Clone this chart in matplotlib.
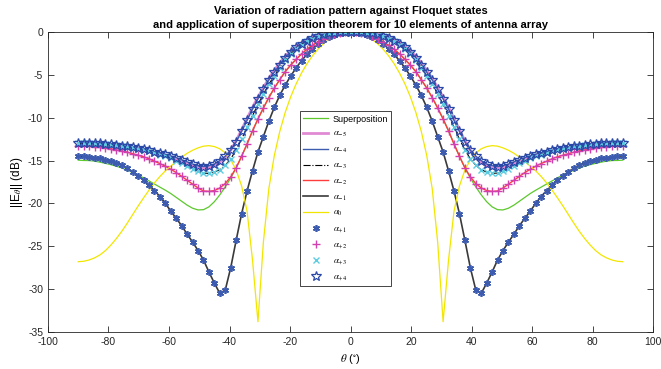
import numpy as np
import matplotlib
matplotlib.use("Agg")
import matplotlib.pyplot as plt

plt.rcParams['font.family'] = ['Liberation Sans', 'DejaVu Sans']
plt.rcParams['mathtext.fontset'] = 'stix'
plt.rcParams['axes.unicode_minus'] = False

# Right half of each (symmetric) pattern, theta = 0, 1.8, ..., 90 deg
theta_half = np.linspace(0, 90, 51)

superpos_half = [0, -0.03, -0.12, -0.29, -0.51, -0.79, -1.14, -1.55, -2.02, -2.56,
                 -3.2, -3.87, -4.63, -5.57, -6.55, -7.65, -8.86, -10.15, -11.54, -13.06,
                 -14.5, -15.85, -17.04, -18.07, -19.0, -19.8, -20.4, -20.73, -20.76, -20.56,
                 -20.2, -19.75, -19.3, -18.85, -18.46, -18.1, -17.74, -17.38, -17.02, -16.67,
                 -16.4, -16.13, -15.86, -15.66, -15.48, -15.33, -15.19, -15.07, -15.0, -14.99,
                 -14.95]
a_m5_half = [0, -0.01, -0.03, -0.08, -0.15, -0.25, -0.4, -0.62, -0.9, -1.25,
             -1.7, -2.2, -2.85, -3.6, -4.5, -5.4, -6.5, -7.6, -8.8, -10.1,
             -11.4, -12.7, -13.8, -14.6, -15.2, -15.6, -15.85, -15.9, -15.8, -15.6,
             -15.35, -15.1, -14.85, -14.6, -14.4, -14.2, -14.05, -13.9, -13.78, -13.66,
             -13.56, -13.47, -13.39, -13.32, -13.26, -13.21, -13.17, -13.14, -13.12, -13.1,
             -13.1]
a_m4_half = [0, -0.01, -0.04, -0.09, -0.17, -0.28, -0.45, -0.7, -1.0, -1.35,
             -1.8, -2.3, -3.0, -3.8, -4.7, -5.6, -6.7, -7.8, -9.0, -10.3,
             -11.6, -12.8, -13.8, -14.5, -15.0, -15.4, -15.6, -15.7, -15.6, -15.4,
             -15.15, -14.9, -14.65, -14.45, -14.25, -14.1, -13.95, -13.8, -13.65, -13.55,
             -13.45, -13.35, -13.25, -13.15, -13.08, -13.02, -12.97, -12.93, -12.9, -12.9,
             -12.9]
a_m3_half = [0, -0.01, -0.04, -0.1, -0.19, -0.31, -0.5, -0.77, -1.1, -1.5,
             -1.98, -2.55, -3.3, -4.15, -5.1, -6.1, -7.25, -8.45, -9.75, -11.1,
             -12.5, -13.75, -14.8, -15.55, -16.05, -16.35, -16.5, -16.45, -16.25, -15.95,
             -15.6, -15.3, -15.0, -14.75, -14.5, -14.3, -14.1, -13.93, -13.78, -13.64,
             -13.52, -13.42, -13.32, -13.24, -13.17, -13.1, -13.05, -13.02, -13.0, -13.0,
             -13.0]
a_m2_half = [0, -0.03, -0.12, -0.29, -0.51, -0.79, -1.14, -1.55, -2.02, -2.56,
             -3.2, -3.87, -4.63, -5.57, -6.55, -7.65, -8.86, -10.15, -11.54, -13.06,
             -14.5, -15.85, -16.9, -17.68, -18.2, -18.5, -18.6, -18.55, -18.2, -17.75,
             -17.3, -16.85, -16.4, -16.02, -15.66, -15.35, -15.08, -14.8, -14.56, -14.38,
             -14.2, -14.02, -13.88, -13.75, -13.64, -13.55, -13.46, -13.39, -13.34, -13.3,
             -13.3]
a_m1_half = [0, -0.04, -0.15, -0.35, -0.62, -0.98, -1.42, -1.95, -2.6, -3.35,
             -4.2, -5.15, -6.2, -7.4, -8.8, -10.4, -12.2, -14.0, -16.2, -18.55,
             -21.2, -24.3, -27.5, -30.1, -30.5, -29.3, -28.0, -26.6, -25.5, -24.5,
             -23.6, -22.6, -21.75, -20.9, -20.0, -19.2, -18.5, -17.9, -17.3, -16.8,
             -16.3, -15.9, -15.5, -15.25, -15.05, -14.9, -14.75, -14.65, -14.55, -14.5,
             -14.45]
a_0_half = [0, -0.05, -0.22, -0.49, -0.88, -1.39, -2.02, -2.79, -3.7, -4.79,
            -6.07, -7.58, -9.39, -11.62, -14.43, -18.27, -24.5, -33.8, -26.6, -20.9,
            -17.96, -16.11, -14.91, -14.11, -13.63, -13.37, -13.26, -13.32, -13.52, -13.8,
            -14.15, -14.6, -15.1, -15.65, -16.2, -16.85, -17.6, -18.45, -19.35, -20.3,
            -21.3, -22.3, -23.25, -24.1, -24.85, -25.5, -26.0, -26.35, -26.6, -26.75,
            -26.8]


def full(theta, vals):
    theta = np.asarray(theta, dtype=float)
    vals = np.asarray(vals, dtype=float)
    return (np.concatenate([-theta[:0:-1], theta]),
            np.concatenate([vals[:0:-1], vals]))


th, sp = full(theta_half, superpos_half)
_, m5 = full(theta_half, a_m5_half)
_, m4 = full(theta_half, a_m4_half)
_, m3 = full(theta_half, a_m3_half)
_, m2 = full(theta_half, a_m2_half)
_, m1 = full(theta_half, a_m1_half)
_, a0 = full(theta_half, a_0_half)

fig = plt.figure(figsize=(6.61, 3.69), dpi=100)
ax = fig.add_axes([0.0726, 0.1003, 0.9154, 0.813])

ax.plot(th, sp, color='#5cc82c', lw=0.9, label='Superposition')
ax.plot(th, m5, color='#e08ad4', lw=2.0, label=r'$\alpha_{-5}$')
ax.plot(th, m4, color='#3d5cb0', lw=1.0, label=r'$\alpha_{-4}$')
ax.plot(th, m3, color='black', lw=0.8, ls='-.', label=r'$\alpha_{-3}$')
ax.plot(th, m2, color='#ff3c3c', lw=1.0, label=r'$\alpha_{-2}$')
ax.plot(th, m1, color='#3a3a3a', lw=1.2, label=r'$\alpha_{-1}$')
ax.plot(th, a0, color='#f2e600', lw=0.9, label=r'$\alpha_{0}$')
ax.plot(th, m1, ls='none', marker=(6, 2, 0), ms=5, mew=1.2,
        color='#3d5cb0', label=r'$\alpha_{+1}$')
ax.plot(th, m2, ls='none', marker='+', ms=6, mew=1.0,
        color='#d040b0', label=r'$\alpha_{+2}$')
ax.plot(th, m3, ls='none', marker='x', ms=4, mew=1.0,
        color='#5ccde0', label=r'$\alpha_{+3}$')
ax.plot(th, m4, ls='none', marker='*', ms=7, mew=0.9, mfc='none',
        color='#2a48a8', label=r'$\alpha_{+4}$')

ax.set_xlim(-100, 100)
ax.set_ylim(-35, 0)
ax.set_xticks(np.arange(-100, 101, 20))
ax.set_yticks(np.arange(-35, 1, 5))
ax.tick_params(direction='in', top=True, right=True, labelsize=7.5,
               colors='#262626', length=4, width=0.6)
for s in ax.spines.values():
    s.set_color('#262626')
    s.set_linewidth(0.6)

ax.set_xlabel(r'$\theta$ ($^{\circ}$)', fontsize=8)
ax.set_ylabel(r'||E$_{\theta}$|| (dB)', fontsize=8.5, labelpad=2)
ax.set_title('Variation of radiation pattern against Floquet states\n'
             'and application of superposition theorem for 10 elements of antenna array',
             fontsize=8, fontweight='bold', pad=3, linespacing=1.45)

leg = ax.legend(loc='upper left', bbox_to_anchor=(0.4165, 0.735), fontsize=6.5,
                frameon=True, fancybox=False, framealpha=1, edgecolor='#262626',
                handlelength=2.8, handletextpad=0.5, labelspacing=0.62,
                borderpad=0.35, borderaxespad=0)
leg.get_frame().set_linewidth(0.6)

fig.savefig('out.png', dpi=100)
